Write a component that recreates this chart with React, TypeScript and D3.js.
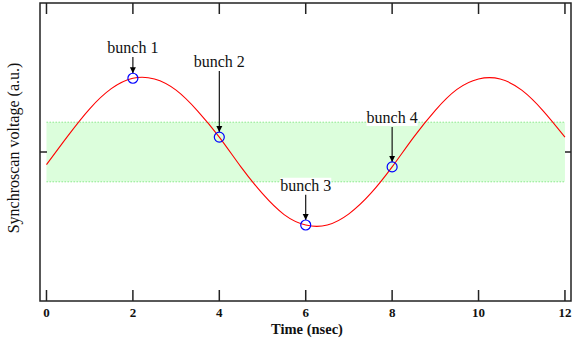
import * as d3 from 'd3';

// time axis (nsec) and the synchroscan sweep
const times = [0, 0.5, 1, 1.5, 2, 2.5, 3, 3.5, 4, 4.5, 5, 5.5, 6, 6.5, 7, 7.5, 8, 8.5, 9, 9.5, 10, 10.5, 11, 11.5, 12];
const voltage = [-0.17, 0.22, 0.58, 0.85, 0.99, 0.98, 0.83, 0.55, 0.2, -0.2, -0.56, -0.84, -0.98, -0.98, -0.83, -0.56, -0.2, 0.2, 0.56, 0.84, 0.98, 0.98, 0.83, 0.55, 0.2];

const bunchLabels = ['bunch 1', 'bunch 2', 'bunch 3', 'bunch 4'];
const bunchTimes = [2, 4, 6, 8];
const bunchVoltage = [0.99, 0.2, -0.98, -0.2];
const labelVoltage = [1.33, 1.14, -0.52, 0.39];

const bandRange = [-0.4, 0.4];
const xTicks = [0, 2, 4, 6, 8, 10, 12];
const yTicks = [0];

const W = 573;
const H = 343;
const frame = { left: 40, right: 571, top: 3, bottom: 301 };

export default function App() {
    const x = d3.scaleLinear().domain([-0.15, 12.14]).range([frame.left, frame.right]);
    const y = d3.scaleLinear().domain([-2, 2]).range([frame.bottom, frame.top]);

    const line = d3
        .line<number>()
        .x((_, i) => x(times[i]))
        .y(d => y(d))
        .curve(d3.curveNatural);

    const serif = '"Liberation Serif", "Times New Roman", serif';
    const r = 5;

    return (
        <svg
            width={W}
            height={H}
            style={{ position: 'absolute', left: 0, top: 0, display: 'block', background: '#fff' }}
        >
            <defs>
                <marker id="arrow" viewBox="0 0 10 10" refX="10" refY="5" markerWidth="6" markerHeight="8" orient="auto" markerUnits="userSpaceOnUse">
                    <path d="M0,0 L10,5 L0,10 z" fill="#000" />
                </marker>
            </defs>

            {/* green acceptance band */}
            <rect
                x={x(0)}
                y={y(bandRange[1])}
                width={x(12) - x(0)}
                height={y(bandRange[0]) - y(bandRange[1])}
                fill="#dcfedc"
            />
            {bandRange.map((b, i) => (
                <line key={i} x1={x(0)} x2={x(12)} y1={y(b)} y2={y(b)} stroke="#8be88b" strokeWidth={1} strokeDasharray="1.5,1.5" />
            ))}

            {/* frame */}
            <rect
                x={frame.left}
                y={frame.top}
                width={frame.right - frame.left}
                height={frame.bottom - frame.top}
                fill="none"
                stroke="#222"
                strokeWidth={1.5}
            />

            {/* ticks */}
            {xTicks.map(t => (
                <g key={t}>
                    <line x1={x(t)} x2={x(t)} y1={frame.bottom} y2={frame.bottom - 11} stroke="#222" strokeWidth={1.5} />
                    <line x1={x(t)} x2={x(t)} y1={frame.top} y2={frame.top + 11} stroke="#222" strokeWidth={1.5} />
                    <text x={x(t)} y={317} textAnchor="middle" fontFamily={serif} fontWeight="bold" fontSize={13} fill="#111">
                        {t}
                    </text>
                </g>
            ))}
            {yTicks.map(t => (
                <g key={t}>
                    <line x1={frame.left} x2={frame.left + 7} y1={y(t)} y2={y(t)} stroke="#222" strokeWidth={1.5} />
                    <line x1={frame.right - 6} x2={frame.right} y1={y(t)} y2={y(t)} stroke="#222" strokeWidth={1.5} />
                </g>
            ))}

            {/* sweep */}
            <path d={line(voltage) || ''} fill="none" stroke="#ff0000" strokeWidth={1.1} />

            {/* bunches */}
            {bunchLabels.map((lab, i) => {
                const cx = x(bunchTimes[i]);
                const cy = y(bunchVoltage[i]);
                const ly = y(labelVoltage[i]);
                const tw = lab.length * 7.3;
                return (
                    <g key={lab}>
                        <rect x={cx - tw / 2} y={ly - 13} width={tw} height={16} fill="#fff" />
                        <text x={cx} y={ly} textAnchor="middle" fontFamily={serif} fontSize={16} fill="#111">
                            {lab}
                        </text>
                        <line x1={cx} x2={cx} y1={ly + 4} y2={cy - r} stroke="#000" strokeWidth={1.1} markerEnd="url(#arrow)" />
                        <circle cx={cx} cy={cy} r={r} fill="none" stroke="#0000ff" strokeWidth={1.2} />
                    </g>
                );
            })}

            {/* axis titles */}
            <text x={307} y={334} textAnchor="middle" fontFamily={serif} fontWeight="bold" fontSize={14.5} fill="#111">
                Time (nsec)
            </text>
            <text
                transform="translate(19,148) rotate(-90)"
                textAnchor="middle"
                fontFamily={serif}
                fontSize={16}
                fill="#111"
            >
                Synchroscan voltage (a.u.)
            </text>
        </svg>
    );
}
